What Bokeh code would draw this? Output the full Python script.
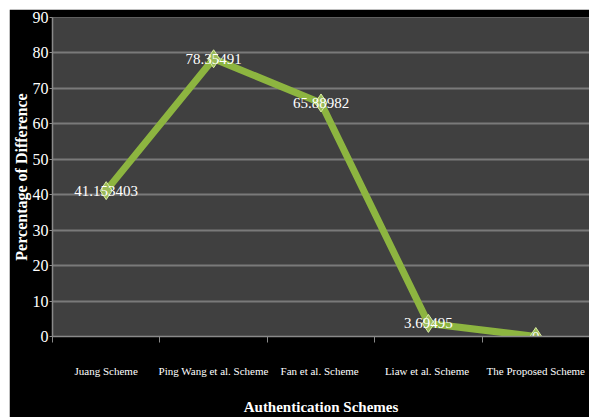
import numpy as np
from bokeh.plotting import figure
from bokeh.models import ColumnDataSource, Range1d, FixedTicker
from bokeh.core.properties import value
from bokeh.embed import file_html
from bokeh.resources import INLINE

categories = ["Juang Scheme", "Ping Wang et al. Scheme", "Fan et al.  Scheme",
              "Liaw  et al. Scheme", "The Proposed Scheme"]
values = [41.153403, 78.35491, 65.88982, 3.69495, 0]
labels = ["41.153403", "78.35491", "65.88982", "3.69495", "0"]
y_ticks = [0, 10, 20, 30, 40, 50, 60, 70, 80, 90]

xpos = list(np.arange(len(categories)) + 0.5)
src = ColumnDataSource(dict(x=xpos, y=values, lab=labels))

FONT = "Liberation Serif"

p = figure(width=580, height=408, output_backend="svg", toolbar_location=None,
           x_range=Range1d(0, len(categories)), y_range=Range1d(0, 90),
           margin=(9, 11, 0, 9), min_border_left=40, min_border_right=0,
           min_border_top=8, min_border_bottom=76)
p.border_fill_color = "black"
p.background_fill_color = "#404040"
p.outline_line_color = None

p.xgrid.grid_line_color = None
p.ygrid.grid_line_color = "#7a7a7a"
p.ygrid.grid_line_width = 2

p.yaxis.ticker = FixedTicker(ticks=y_ticks)
p.xaxis.ticker = FixedTicker(ticks=xpos, minor_ticks=list(range(len(categories) + 1)))
p.xaxis.major_label_overrides = {float(x): c for x, c in zip(xpos, categories)}

for ax in (p.xaxis[0], p.yaxis[0]):
    ax.axis_line_color = "#8a8a8a"
    ax.axis_line_width = 1.5
    ax.major_label_text_color = "white"
    ax.major_label_text_font = FONT
    ax.axis_label_text_color = "white"
    ax.axis_label_text_font = FONT
    ax.axis_label_text_font_style = "bold"

p.yaxis.major_tick_line_color = "#8a8a8a"
p.yaxis.major_tick_out = 3
p.yaxis.major_tick_in = 0
p.yaxis.minor_tick_line_color = None
p.yaxis.major_label_text_font_size = "16px"
p.yaxis.major_label_standoff = 1
p.yaxis.axis_label = "Percentage of Difference"
p.yaxis.axis_label_text_font_size = "16px"
p.yaxis.axis_label_standoff = 0

p.xaxis.major_tick_line_color = None
p.xaxis.minor_tick_line_color = "#8a8a8a"
p.xaxis.minor_tick_out = 6
p.xaxis.minor_tick_in = 0
p.xaxis.major_label_text_font_size = "11px"
p.xaxis.major_label_standoff = 22
p.xaxis.axis_label = "Authentication Schemes"
p.xaxis.axis_label_text_font_size = "15px"
p.xaxis.axis_label_standoff = 19

p.line("x", "y", source=src, line_color="#8db540", line_width=7)
p.scatter("x", "y", source=src, marker="diamond", size=18,
          fill_color="#9bbb59", line_color="#d8eca0", line_width=1)
p.text("x", "y", text="lab", source=src, text_color="white",
       text_font=value(FONT), text_font_size="15px",
       text_align="center", text_baseline="middle")

open("out.html", "w").write(file_html(p, INLINE))
